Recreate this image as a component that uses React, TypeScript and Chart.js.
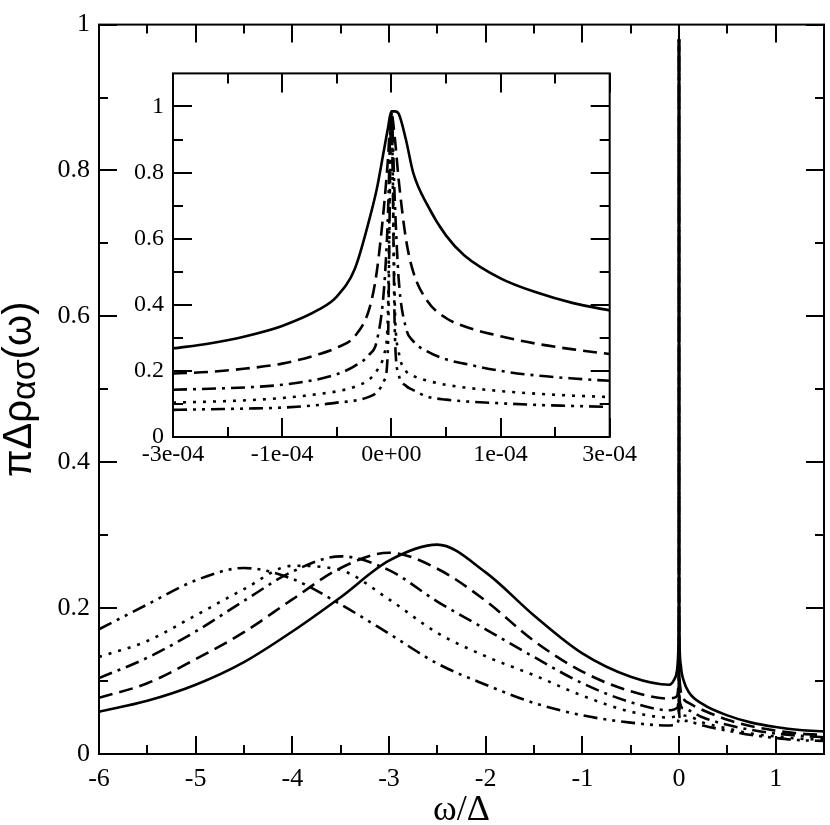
import React, { useEffect, useRef } from "react";
import { Chart, registerables } from "chart.js";

Chart.register(...registerables);

// ---------- main chart data ----------
const mainX = [
  -6, -5.5, -5, -4.5, -4, -3.5, -3, -2.5, -2, -1.5, -1, -0.5, -0.1, -0.05, -0.02, -0.005, -0.001,
  -0.0003, -0.0001, 0, 0.0001, 0.0003, 0.001, 0.005, 0.02, 0.05, 0.1, 0.25, 0.5, 0.75, 1, 1.25, 1.5,
];
const mainSolid = [
  0.058, 0.073, 0.095, 0.126, 0.168, 0.215, 0.265, 0.287, 0.249, 0.19, 0.138, 0.106, 0.095, 0.102, 0.115, 0.15, 0.21,
  0.29, 0.42, 0.98, 0.55, 0.38, 0.24, 0.155, 0.12, 0.1, 0.085, 0.068, 0.053, 0.043, 0.037, 0.033, 0.031,
];
const mainDashed = [
  0.077, 0.097, 0.13, 0.167, 0.212, 0.255, 0.276, 0.254, 0.21, 0.155, 0.113, 0.086, 0.076, 0.077, 0.08, 0.095, 0.13,
  0.19, 0.26, 0.98, 0.33, 0.25, 0.15, 0.105, 0.085, 0.075, 0.07, 0.06, 0.047, 0.038, 0.032, 0.028, 0.026,
];
const mainDashDot = [
  0.104, 0.132, 0.168, 0.21, 0.25, 0.271, 0.252, 0.209, 0.171, 0.133, 0.097, 0.071, 0.06, 0.061, 0.063, 0.072, 0.1,
  0.14, 0.19, 0.98, 0.24, 0.17, 0.11, 0.078, 0.066, 0.062, 0.06, 0.05, 0.04, 0.033, 0.028, 0.025, 0.023,
];
const mainDotted = [
  0.133, 0.155, 0.19, 0.226, 0.258, 0.252, 0.212, 0.166, 0.134, 0.108, 0.08, 0.058, 0.05, 0.051, 0.052, 0.059, 0.075,
  0.1, 0.138, 0.98, 0.17, 0.12, 0.085, 0.062, 0.056, 0.053, 0.052, 0.043, 0.035, 0.028, 0.024, 0.021, 0.02,
];
const mainDashDotDot = [
  0.171, 0.205, 0.238, 0.255, 0.24, 0.205, 0.165, 0.124, 0.095, 0.07, 0.053, 0.043, 0.039, 0.04, 0.041, 0.047, 0.06,
  0.082, 0.104, 0.98, 0.125, 0.09, 0.065, 0.051, 0.048, 0.046, 0.045, 0.039, 0.032, 0.026, 0.022, 0.019, 0.018,
];

const mainXTicks = [-6, -5, -4, -3, -2, -1, 0, 1];
const mainXTickLabels = ["-6", "-5", "-4", "-3", "-2", "-1", "0", "1"];
const mainXMinor = [-5.5, -4.5, -3.5, -2.5, -1.5, -0.5, 0.5];
const mainYTicks = [0, 0.2, 0.4, 0.6, 0.8, 1];
const mainYTickLabels = ["0", "0.2", "0.4", "0.6", "0.8", "1"];
const mainYMinor = [0.1, 0.3, 0.5, 0.7, 0.9];

// ---------- inset data ----------
const insetX = [
  -3e-4, -2.5e-4, -2e-4, -1.5e-4, -1e-4, -0.75e-4, -0.5e-4, -0.3e-4, -0.2e-4, -0.1e-4, -0.05e-4, 0,
  0.05e-4, 0.1e-4, 0.2e-4, 0.3e-4, 0.5e-4, 0.75e-4, 1e-4, 1.5e-4, 2e-4, 2.5e-4, 3e-4,
];
const insetSolid = [
  0.268, 0.283, 0.305, 0.336, 0.385, 0.425, 0.51, 0.66, 0.75, 0.87, 0.93, 0.985,
  0.985, 0.978, 0.9, 0.8, 0.7, 0.61, 0.55, 0.48, 0.437, 0.405, 0.383,
];
const insetDashed = [
  0.192, 0.197, 0.207, 0.222, 0.25, 0.27, 0.305, 0.39, 0.5, 0.7, 0.83, 0.98,
  0.9, 0.78, 0.6, 0.5, 0.41, 0.36, 0.335, 0.305, 0.282, 0.265, 0.251,
];
const insetDashDot = [
  0.143, 0.146, 0.15, 0.158, 0.175, 0.19, 0.215, 0.25, 0.29, 0.45, 0.65, 0.98,
  0.7, 0.48, 0.33, 0.29, 0.258, 0.235, 0.222, 0.2, 0.186, 0.177, 0.17,
];
const insetDotted = [
  0.104, 0.107, 0.111, 0.118, 0.13, 0.138, 0.152, 0.175, 0.2, 0.25, 0.35, 0.98,
  0.38, 0.26, 0.2, 0.185, 0.17, 0.158, 0.15, 0.139, 0.131, 0.125, 0.121,
];
const insetDashDotDot = [
  0.082, 0.084, 0.086, 0.089, 0.097, 0.104, 0.11, 0.122, 0.135, 0.17, 0.25, 0.98,
  0.3, 0.19, 0.155, 0.142, 0.122, 0.113, 0.108, 0.102, 0.097, 0.094, 0.091,
];

const insetXTicks = [-3e-4, -1.5e-4, 0, 1.5e-4, 3e-4];
const insetXTickLabels = ["-3e-04", "-1e-04", "0e+00", "1e-04", "3e-04"];
const insetXMinor = [-2.25e-4, -0.75e-4, 0.75e-4, 2.25e-4];
const insetYTicks = [0, 0.2, 0.4, 0.6, 0.8, 1];
const insetYTickLabels = ["0", "0.2", "0.4", "0.6", "0.8", "1"];
const insetYMinor = [0.1, 0.3, 0.5, 0.7, 0.9];

const dashStyles: number[][] = [[], [14, 7], [14, 6, 3, 6], [3, 7], [14, 6, 3, 6, 3, 6]];

const SERIF = "Liberation Serif";
const SANS = "Liberation Sans";
const MAIN_TICK_FONT = { family: SERIF, size: 26 };
const INSET_TICK_FONT = { family: SERIF, size: 24 };

function makeDatasets(xs: number[], series: number[][]) {
  return series.map((ys, i) => ({
    data: xs.map((x, j) => ({ x, y: ys[j] })),
    borderColor: "#000",
    borderWidth: 2.6,
    borderDash: dashStyles[i],
    borderCapStyle: "butt" as const,
    pointRadius: 0,
    fill: false,
    cubicInterpolationMode: "monotone" as const,
  }));
}

function frameTicks(
  id: string,
  xMajor: number[],
  xMinor: number[],
  yMajor: number[],
  yMinor: number[],
  majorLen: number,
  minorLen: number,
  lw: number
) {
  return {
    id,
    afterDatasetsDraw(chart: any) {
      const { ctx, chartArea } = chart;
      const { left, right, top, bottom } = chartArea;
      const xs = chart.scales.x;
      const ys = chart.scales.y;
      ctx.save();
      ctx.strokeStyle = "#000";
      ctx.lineWidth = lw;
      ctx.setLineDash([]);
      ctx.lineCap = "butt";
      ctx.beginPath();
      const xt = (v: number, len: number) => {
        const p = Math.round(xs.getPixelForValue(v));
        ctx.moveTo(p, bottom);
        ctx.lineTo(p, bottom - len);
        ctx.moveTo(p, top);
        ctx.lineTo(p, top + len);
      };
      const yt = (v: number, len: number) => {
        const p = Math.round(ys.getPixelForValue(v));
        ctx.moveTo(left, p);
        ctx.lineTo(left + len, p);
        ctx.moveTo(right, p);
        ctx.lineTo(right - len, p);
      };
      xMajor.forEach((v) => xt(v, majorLen));
      xMinor.forEach((v) => xt(v, minorLen));
      yMajor.forEach((v) => yt(v, majorLen));
      yMinor.forEach((v) => yt(v, minorLen));
      ctx.stroke();
      ctx.strokeRect(left, top, right - left, bottom - top);
      ctx.restore();
    },
  };
}

const titlesPlugin = {
  id: "mainTitles",
  afterDraw(chart: any) {
    const { ctx, chartArea } = chart;
    ctx.save();
    ctx.fillStyle = "#000";
    ctx.font = `36px "${SERIF}", serif`;
    ctx.textAlign = "center";
    ctx.textBaseline = "alphabetic";
    ctx.fillText("ω/Δ", (chartArea.left + chartArea.right) / 2, 820);
    const cy = (chartArea.top + chartArea.bottom) / 2;
    ctx.translate(0, cy);
    ctx.rotate(-Math.PI / 2);
    const mainFont = `40px "${SANS}", sans-serif`;
    const subFont = `34px "${SANS}", sans-serif`;
    const p1 = "πΔρ";
    const p2 = "ασ";
    const p3 = "(ω)";
    ctx.font = mainFont;
    const w1 = ctx.measureText(p1).width;
    const w3 = ctx.measureText(p3).width;
    ctx.font = subFont;
    const w2 = ctx.measureText(p2).width;
    const total = w1 + w2 + w3;
    let x = -total / 2;
    const base = 31;
    ctx.textAlign = "left";
    ctx.font = mainFont;
    ctx.fillText(p1, x, base);
    x += w1;
    ctx.font = subFont;
    ctx.fillText(p2, x, base + 4);
    x += w2;
    ctx.font = mainFont;
    ctx.fillText(p3, x, base);
    ctx.restore();
  },
};

function buildMain(canvas: HTMLCanvasElement) {
  return new Chart(canvas, {
    type: "line",
    data: {
      datasets: makeDatasets(mainX, [mainSolid, mainDashed, mainDashDot, mainDotted, mainDashDotDot]) as any,
    },
    options: {
      responsive: false,
      animation: false,
      devicePixelRatio: 1,
      layout: { padding: { left: 0, top: 11, right: 6, bottom: 0 } },
      plugins: { legend: { display: false }, tooltip: { enabled: false } },
      scales: {
        x: {
          type: "linear",
          min: -6,
          max: 1.5,
          afterBuildTicks: (s: any) => {
            s.ticks = mainXTicks.map((v) => ({ value: v }));
          },
          afterFit: (s: any) => {
            s.height = 71;
          },
          ticks: {
            callback: (_v: any, i: number) => mainXTickLabels[i],
            font: MAIN_TICK_FONT,
            color: "#000",
            padding: 10,
            maxRotation: 0,
            autoSkip: false,
          },
          grid: { display: false, drawTicks: false },
          border: { display: false },
        },
        y: {
          type: "linear",
          min: 0,
          max: 1,
          afterBuildTicks: (s: any) => {
            s.ticks = mainYTicks.map((v) => ({ value: v }));
          },
          afterFit: (s: any) => {
            s.width = 99;
          },
          ticks: {
            callback: (_v: any, i: number) => mainYTickLabels[i],
            font: MAIN_TICK_FONT,
            color: "#000",
            padding: 9,
            autoSkip: false,
          },
          grid: { display: false, drawTicks: false },
          border: { display: false },
        },
      },
    },
    plugins: [frameTicks("mainFrame", mainXTicks, mainXMinor, mainYTicks, mainYMinor, 18, 9, 2), titlesPlugin],
  });
}

function buildInset(canvas: HTMLCanvasElement) {
  return new Chart(canvas, {
    type: "line",
    data: {
      datasets: makeDatasets(insetX, [insetSolid, insetDashed, insetDashDot, insetDotted, insetDashDotDot]) as any,
    },
    options: {
      responsive: false,
      animation: false,
      devicePixelRatio: 1,
      layout: { padding: { left: 0, top: 13, right: 29, bottom: 0 } },
      plugins: { legend: { display: false }, tooltip: { enabled: false } },
      scales: {
        x: {
          type: "linear",
          min: -3e-4,
          max: 3e-4,
          afterBuildTicks: (s: any) => {
            s.ticks = insetXTicks.map((v) => ({ value: v }));
          },
          afterFit: (s: any) => {
            s.height = 33;
          },
          ticks: {
            callback: (_v: any, i: number) => insetXTickLabels[i],
            font: INSET_TICK_FONT,
            color: "#000",
            padding: 3,
            maxRotation: 0,
            autoSkip: false,
          },
          grid: { display: false, drawTicks: false },
          border: { display: false },
        },
        y: {
          type: "linear",
          min: 0,
          max: 1.1,
          afterBuildTicks: (s: any) => {
            s.ticks = insetYTicks.map((v) => ({ value: v }));
          },
          afterFit: (s: any) => {
            s.width = 53;
          },
          ticks: {
            callback: (_v: any, i: number) => insetYTickLabels[i],
            font: INSET_TICK_FONT,
            color: "#000",
            padding: 9,
            autoSkip: false,
          },
          grid: { display: false, drawTicks: false },
          border: { display: false },
        },
      },
    },
    plugins: [frameTicks("insetFrame", insetXTicks, insetXMinor, insetYTicks, insetYMinor, 19, 10, 2)],
  });
}

function useChart(build: (c: HTMLCanvasElement) => Chart) {
  const ref = useRef<HTMLCanvasElement | null>(null);
  useEffect(() => {
    if (!ref.current) return;
    const chart = build(ref.current);
    return () => chart.destroy();
  }, []);
  return ref;
}

function MainChart() {
  const ref = useChart(buildMain);
  return <canvas ref={ref} width={830} height={825} style={{ display: "block" }} />;
}

function InsetChart() {
  const ref = useChart(buildInset);
  return <canvas ref={ref} width={520} height={420} style={{ display: "block" }} />;
}

export default function App() {
  return (
    <div style={{ position: "absolute", left: 0, top: 0, width: 830, height: 825, background: "#fff" }}>
      <MainChart />
      <div style={{ position: "absolute", left: 120, top: 50 }}>
        <InsetChart />
      </div>
    </div>
  );
}
